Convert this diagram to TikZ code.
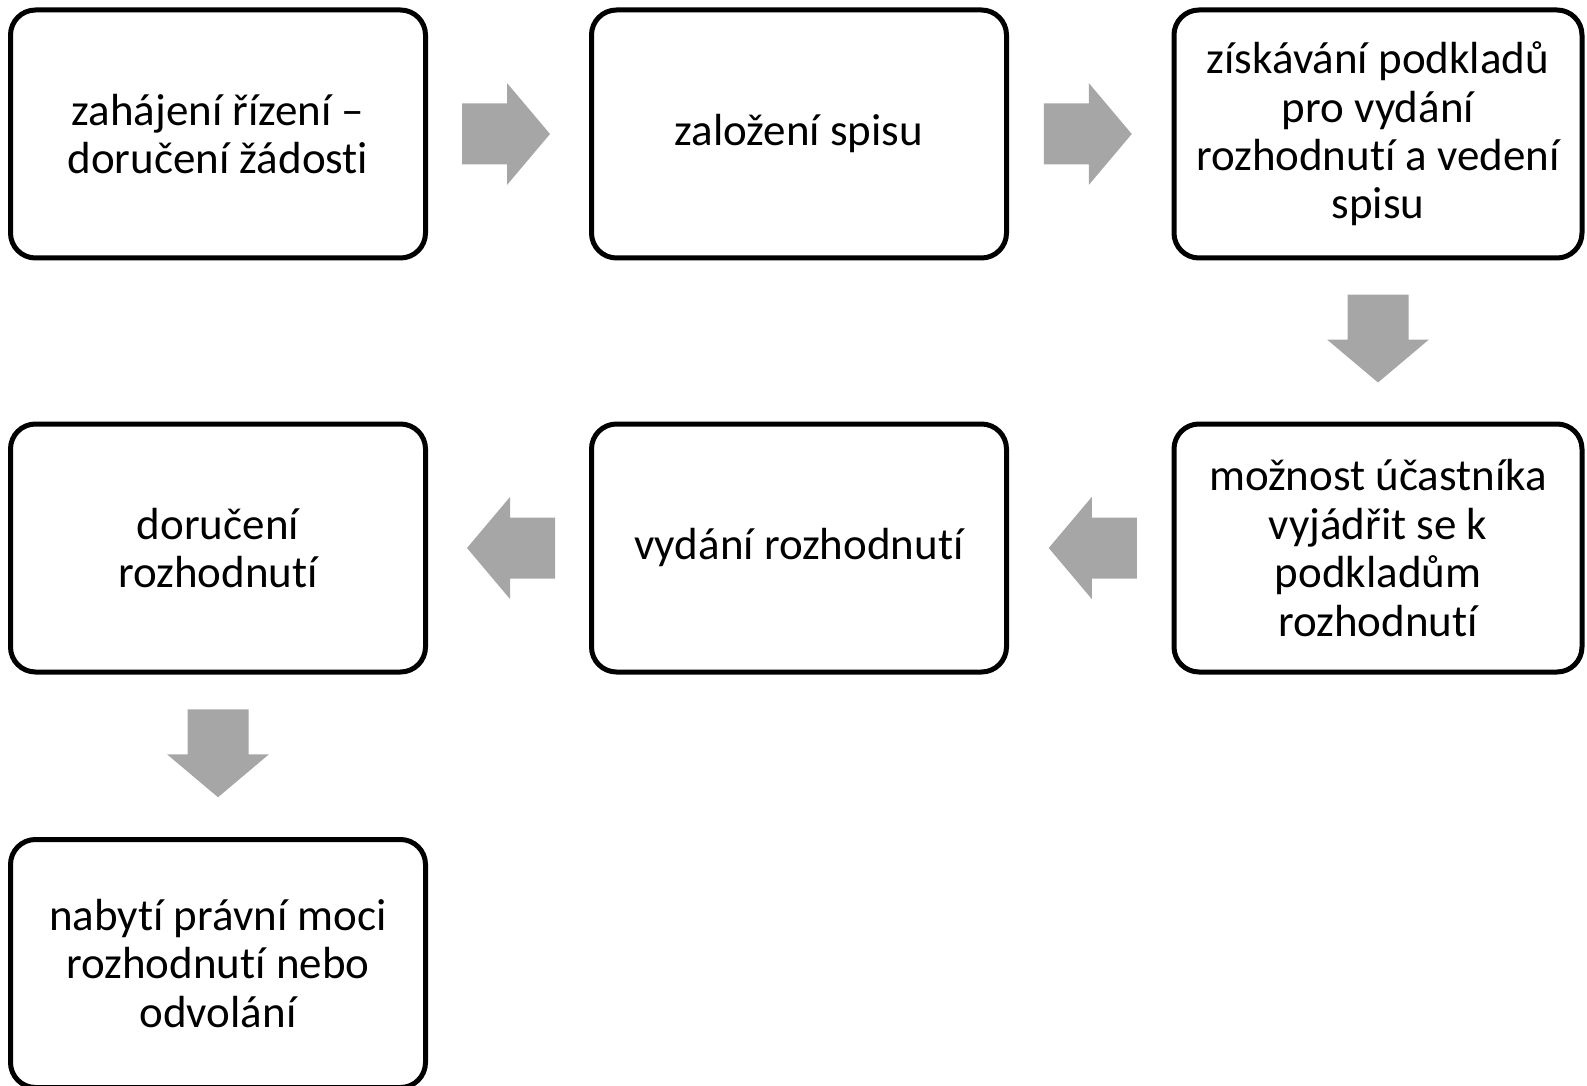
\documentclass[tikz,border=0pt]{standalone}
\usepackage{fontspec}
\setmainfont{Carlito}[Ligatures={NoCommon,NoContextual}]
\usetikzlibrary{calc}
\definecolor{arrowgray}{HTML}{A6A6A6}
\tikzset{
  pics/blockarrow/.style={code={
    \fill[arrowgray] (-46.5,-30.5) -- (-1.5,-30.5) -- (-1.5,-51) -- (41.5,0)
      -- (-1.5,51) -- (-1.5,30.5) -- (-46.5,30.5) -- cycle;
  }}
}
\begin{document}
\begin{tikzpicture}[x=0.5pt, y=-0.5pt,
    box/.style = {draw, line width=2.5pt, rounded corners=12.5pt,
      minimum width=207.5pt, minimum height=124pt, align=center,
      font=\fontsize{22.5}{24.2}\selectfont},
    narrowbox/.style = {box, minimum width=204pt}]
    \useasboundingbox (0,0) rectangle (1587,1086);

    \node[box] (b1) at (218,134) {zahájení řízení –\\doručení žádosti};
    \node[box] (b2) at (799,134) {založení spisu};
    \node[narrowbox] (b3) at (1378,134) {získávání podkladů\\pro vydání\\rozhodnutí a vedení\\spisu};
    \node[narrowbox] (b6) at (1378,548) {možnost účastníka\\vyjádřit se k\\podkladům\\rozhodnutí};
    \node[box] (b5) at (799,548) {vydání rozhodnutí};
    \node[box] (b4) at (218,548) {doručení\\rozhodnutí};
    \node[box] (b7) at (218,963.5) {nabytí právní moci\\rozhodnutí nebo\\odvolání};

    \pic at ($(b1.east)!0.5!(b2.west)$) {blockarrow};
    \pic at ($(b2.east)!0.5!(b3.west)$) {blockarrow};
    \pic[rotate=-90] at ($(b3.south)!0.5!(b6.north)$) {blockarrow};
    \pic[rotate=180] at ($(b6.west)!0.5!(b5.east)$) {blockarrow};
    \pic[rotate=180] at ($(b5.west)!0.5!(b4.east)$) {blockarrow};
    \pic[rotate=-90] at ($(b4.south)!0.5!(b7.north)$) {blockarrow};

\end{tikzpicture}
\end{document}
